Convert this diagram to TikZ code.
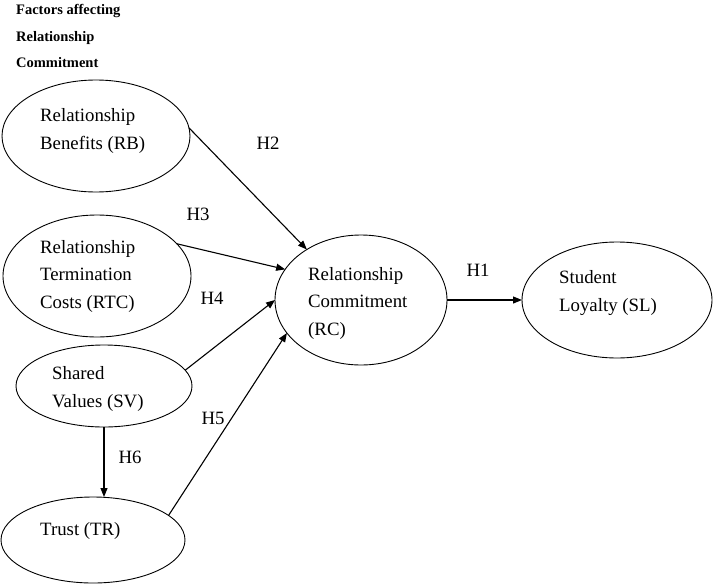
\documentclass[tikz,border=0pt]{standalone}
\usepackage{fontspec}
\setmainfont{Liberation Serif}
\usetikzlibrary{shapes.geometric,arrows.meta}
\tikzset{
  oval/.style={ellipse,draw,line width=0.9pt,inner sep=0pt,outer sep=0pt},
  txt/.style={anchor=west,align=left,inner sep=0pt,font=\fontsize{18.8}{27.5}\selectfont},
  hlab/.style={inner sep=0pt,font=\fontsize{18.8}{22}\selectfont},
  head/.style={anchor=west,align=left,inner sep=0pt,font=\fontsize{14.5}{26.5}\selectfont\bfseries},
  arr/.style={line width=1.1pt,-{Triangle[length=9pt,width=7pt]}}
}
\begin{document}
\begin{tikzpicture}[x=1pt,y=-1pt]
\useasboundingbox (0,0) rectangle (714,586);
\node[head] (title) at (16,36) {Factors affecting\\Relationship\\Commitment};
\node[oval,minimum width=188pt,minimum height=112pt] (rb) at (96,136) {};
\node[oval,minimum width=188pt,minimum height=122pt] (rtc) at (97,276) {};
\node[oval,minimum width=176pt,minimum height=82pt] (sv) at (104,386) {};
\node[oval,minimum width=184pt,minimum height=86pt] (tr) at (93,540) {};
\node[oval,minimum width=172pt,minimum height=130pt] (rc) at (361,300) {};
\node[oval,minimum width=190pt,minimum height=116pt] (sl) at (617,300) {};
\node[txt] (rbt) at (40,131) {Relationship\\Benefits (RB)};
\node[txt] (rtct) at (40,276) {Relationship\\Termination\\Costs (RTC)};
\node[txt] (svt) at (52,389) {Shared\\Values (SV)};
\node[txt] (trt) at (40,531) {Trust (TR)};
\node[txt] (rct) at (308,303) {Relationship\\Commitment\\(RC)};
\node[txt] (slt) at (559,293) {Student\\Loyalty (SL)};
\node[hlab] (h2) at (268,143) {H2};
\node[hlab] (h3) at (198,214) {H3};
\node[hlab] (h4) at (212,298) {H4};
\node[hlab] (h1) at (478,270) {H1};
\node[hlab] (h5) at (213,418) {H5};
\node[hlab] (h6) at (130,457) {H6};
\draw[arr] (rb.5) -- (rc.137);
\draw[arr] (rtc.22) -- (rc.158);
\draw[arr] (sv.11) -- (rc.180);
\draw[arr] (tr.18) -- (rc.204);
\draw[arr] (rc.east) -- (sl.west);
\draw[arr] (sv.south) -- (sv.south |- tr.north);
\end{tikzpicture}
\end{document}
